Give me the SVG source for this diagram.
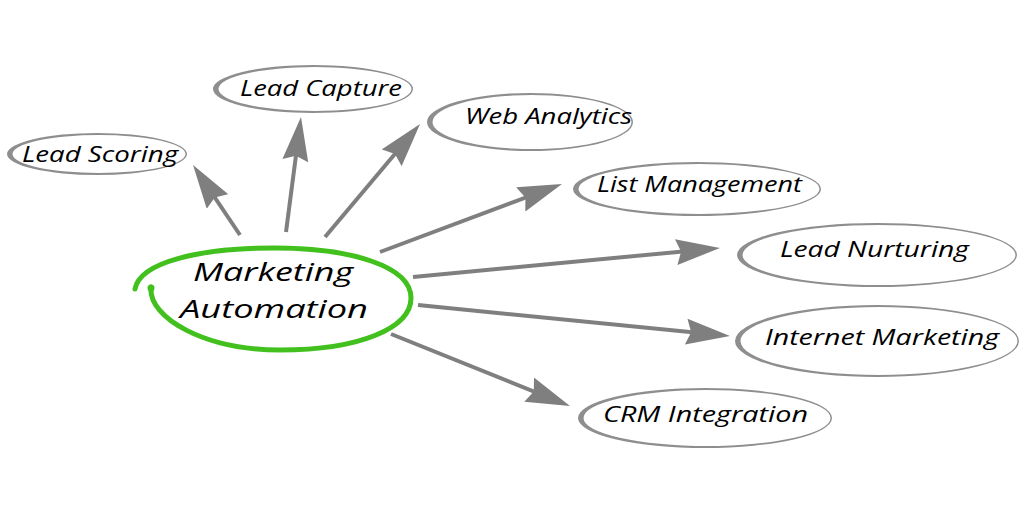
<svg xmlns="http://www.w3.org/2000/svg" width="1024" height="512" viewBox="0 0 1024 512">
<defs>
<style>
.ring{fill:#8e8e8e;fill-rule:evenodd}
.lbl{font-family:"Open Sans","DejaVu Sans",sans-serif;font-style:italic;font-size:22px;fill:#000}
.big{font-size:26px}
.arr{stroke:#7f7f7f;stroke-width:4;fill:none;marker-end:url(#ah)}
</style>
<marker id="ah" viewBox="0 0 44 26" refX="34" refY="13" markerWidth="44" markerHeight="26" markerUnits="userSpaceOnUse" orient="auto">
<path d="M0,0 L44,13 L0,26 L5,13 Z" fill="#7f7f7f"/>
</marker>
</defs>
<rect width="1024" height="512" fill="#fff"/>
<g id="connectors">
<line class="arr" x1="240" y1="235" x2="198.6" y2="173.3"/>
<line class="arr" x1="286" y1="232" x2="299.7" y2="126.9"/>
<line class="arr" x1="325" y1="237" x2="413.6" y2="131.7"/>
<line class="arr" x1="380" y1="252" x2="552.6" y2="187.5"/>
<line class="arr" x1="413" y1="277" x2="710" y2="248.9"/>
<line class="arr" x1="418" y1="305" x2="720" y2="335"/>
<line class="arr" x1="391" y1="334" x2="560.7" y2="402.3"/>
</g>
<g id="center">
<path d="M151,287 C148,318 205,350 280,350 C360,350 411,328 411,298 C411,266 350,248 275,248 C200,248 140,262 135,289" fill="none" stroke="#41c01e" stroke-width="5" stroke-linecap="round"/>
<circle cx="151" cy="288" r="3.5" fill="#41c01e"/>
<text class="lbl big" x="193" y="281" textLength="160" lengthAdjust="spacingAndGlyphs">Marketing</text>
<text class="lbl big" x="180" y="318" textLength="188" lengthAdjust="spacingAndGlyphs">Automation</text>
</g>
<g id="lead-scoring">
<path class="ring" d="M7,154 A90,21 0 1 0 187,154 A90,21 0 1 0 7,154Z M12.5,154 A86.5,19 0 1 0 185.5,154 A86.5,19 0 1 0 12.5,154Z"/>
<text class="lbl" x="22" y="162" textLength="156" lengthAdjust="spacingAndGlyphs">Lead Scoring</text>
</g>
<g id="lead-capture">
<path class="ring" d="M213,89 A100,24 0 1 0 413,89 A100,24 0 1 0 213,89Z M218.5,89 A96.5,22 0 1 0 411.5,89 A96.5,22 0 1 0 218.5,89Z"/>
<text class="lbl" x="240" y="96" textLength="162" lengthAdjust="spacingAndGlyphs">Lead Capture</text>
</g>
<g id="web-analytics">
<path class="ring" d="M427,122 A103,29 0 1 0 633,122 A103,29 0 1 0 427,122Z M432.5,122 A99.5,27 0 1 0 631.5,122 A99.5,27 0 1 0 432.5,122Z"/>
<text class="lbl" x="465" y="124" textLength="167" lengthAdjust="spacingAndGlyphs">Web Analytics</text>
</g>
<g id="list-management">
<path class="ring" d="M573,189 A124,27 0 1 0 821,189 A124,27 0 1 0 573,189Z M578.5,189 A120.5,25 0 1 0 819.5,189 A120.5,25 0 1 0 578.5,189Z"/>
<text class="lbl" x="597" y="192" textLength="205" lengthAdjust="spacingAndGlyphs">List Management</text>
</g>
<g id="lead-nurturing">
<path class="ring" d="M737,255 A140,32 0 1 0 1017,255 A140,32 0 1 0 737,255Z M742.5,255 A136.5,30 0 1 0 1015.5,255 A136.5,30 0 1 0 742.5,255Z"/>
<text class="lbl" x="780" y="257" textLength="189" lengthAdjust="spacingAndGlyphs">Lead Nurturing</text>
</g>
<g id="internet-marketing">
<path class="ring" d="M735,341 A142,36 0 1 0 1019,341 A142,36 0 1 0 735,341Z M740.5,341 A138.5,34 0 1 0 1017.5,341 A138.5,34 0 1 0 740.5,341Z"/>
<text class="lbl" x="765" y="345" textLength="234" lengthAdjust="spacingAndGlyphs">Internet Marketing</text>
</g>
<g id="crm-integration">
<path class="ring" d="M578,418 A127,30 0 1 0 832,418 A127,30 0 1 0 578,418Z M583.5,418 A123.5,28 0 1 0 830.5,418 A123.5,28 0 1 0 583.5,418Z"/>
<text class="lbl" x="603" y="422" textLength="205" lengthAdjust="spacingAndGlyphs">CRM Integration</text>
</g>
</svg>
